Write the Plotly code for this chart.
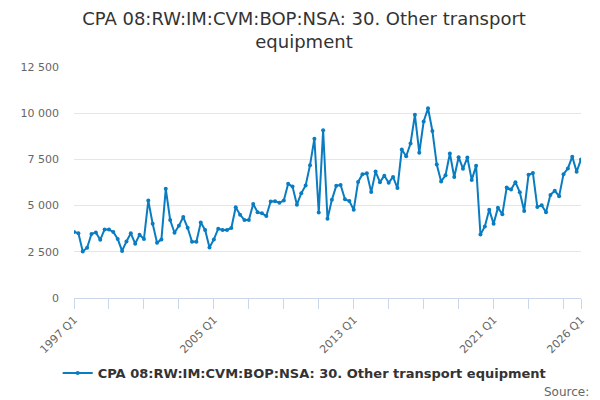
import plotly.graph_objects as go

# quarterly values, 1997 Q1 .. 2026 Q1
values = [
    3570, 3510, 2520, 2720, 3460, 3550, 3150, 3710, 3710, 3570,
    3190, 2550, 3060, 3500, 2940, 3420, 3190, 5270, 4020, 2990,
    3170, 5910, 4220, 3530, 3910, 4380, 3800, 3040, 3040, 4080,
    3680, 2730, 3170, 3750, 3680, 3680, 3790, 4910, 4510, 4220,
    4220, 5090, 4640, 4580, 4440, 5220, 5240, 5160, 5270, 6180,
    6030, 5050, 5670, 6090, 7190, 8620, 4620, 9080, 4290, 5310,
    6070, 6120, 5340, 5250, 4770, 6280, 6700, 6745, 5730, 6840,
    6270, 6620, 6240, 6550, 5950, 8040, 7670, 8360, 9910, 7860,
    9550, 10270, 9040, 7220, 6310, 6640, 7820, 6550, 7620, 7000,
    7600, 6390, 7150, 3430, 3875, 4780, 4020, 4890, 4530, 5980,
    5870, 6270, 5720, 4710, 6670, 6760, 4930, 5020, 4640, 5580,
    5800, 5510, 6700, 7010, 7650, 6830, 7500,
]
quarters = [f"{1997 + i // 4} Q{i % 4 + 1}" for i in range(len(values))]

label_quarters = ["1997 Q1", "2005 Q1", "2013 Q1", "2021 Q1", "2026 Q1"]
y_ticks = [0, 2500, 5000, 7500, 10000, 12500]
y_labels = ["0", "2 500", "5 000", "7 500", "10 000", "12 500"]

series_name = "CPA 08:RW:IM:CVM:BOP:NSA: 30. Other transport equipment"
blue = "#0a7cc1"

# ticks every 2 years, labels only on some of them
tick_vals = quarters[::8] + [quarters[-1]]
tick_text = [q if q in label_quarters else "" for q in tick_vals]

fig = go.Figure()
fig.add_trace(go.Scatter(
    x=quarters, y=values, mode="lines+markers", name=series_name,
    line=dict(color=blue, width=2),
    marker=dict(color=blue, size=4),
))

# page body has an 8px margin, so the figure is drawn 8px smaller
fig.update_layout(
    width=592, height=392,
    plot_bgcolor="white", paper_bgcolor="white",
    font=dict(family="DejaVu Sans", color="#666666", size=11),
    margin=dict(l=57, r=19, t=59, b=102),
    title=dict(
        text="CPA 08:RW:IM:CVM:BOP:NSA: 30. Other transport<br>equipment",
        x=0.5, xanchor="center", y=0.9566, yanchor="top",
        font=dict(size=18, color="#333333"),
    ),
    showlegend=True,
    legend=dict(
        orientation="h", x=0.455, xanchor="center", y=-0.325, yanchor="middle",
        itemwidth=30,
        font=dict(size=13, color="#333333", weight="bold"),
    ),
)

fig.update_xaxes(
    type="category", range=[0, len(values) - 1],
    tickmode="array", tickvals=tick_vals, ticktext=tick_text,
    tickangle=-45, ticks="outside", ticklen=10, tickcolor="#ccd6eb",
    showline=True, linecolor="#ccd6eb", showgrid=False,
    tickfont=dict(size=11, color="#666666"),
)
fig.update_yaxes(
    range=[0, 12500], tickmode="array", tickvals=y_ticks, ticktext=y_labels,
    showgrid=True, gridcolor="#e6e6e6", zeroline=False,
    ticks="", ticklabelstandoff=14,
    tickfont=dict(size=11, color="#666666"),
)

fig.add_annotation(
    text="Source:", xref="paper", yref="paper", x=1, y=-0.405,
    xanchor="right", yanchor="middle", xshift=10, showarrow=False,
    font=dict(size=12, color="#666666"),
)

fig.write_html("out.html")
